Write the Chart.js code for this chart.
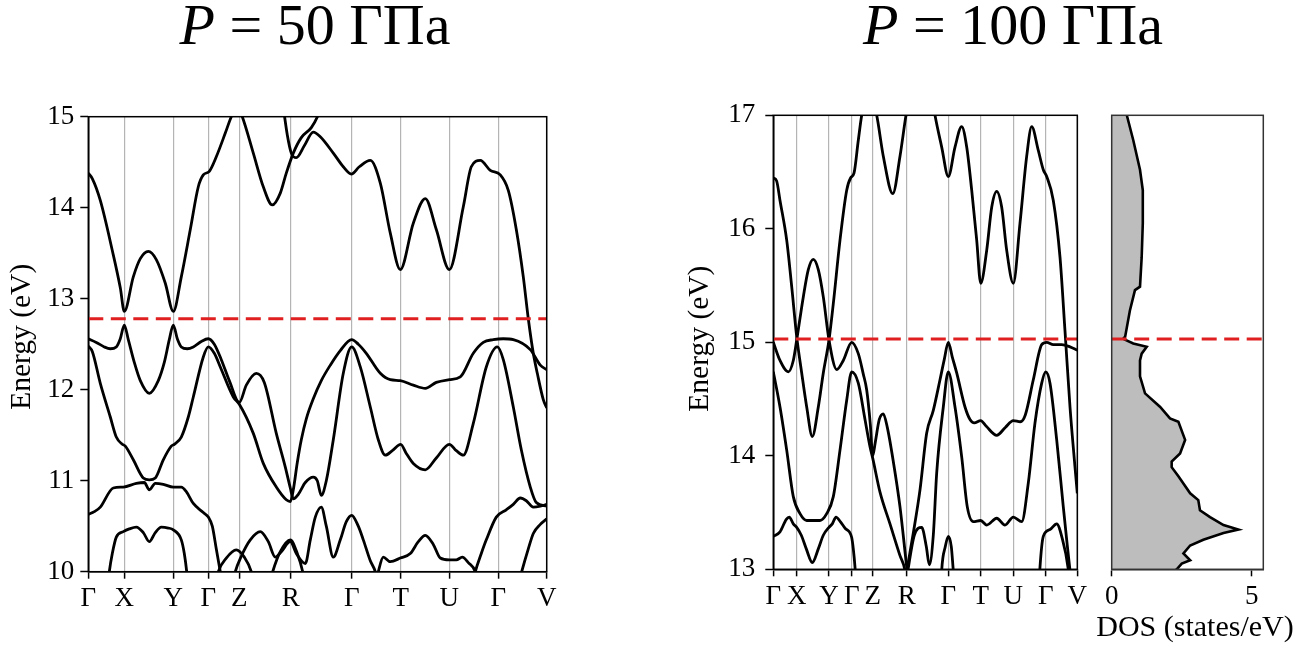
<!DOCTYPE html>
<html>
<head>
<meta charset="utf-8">
<script src="https://cdn.jsdelivr.net/npm/chart.js@4.4.1/dist/chart.umd.min.js"></script>
<style>
  body { margin: 0; width: 1310px; height: 648px; background: #fff; position: relative; overflow: hidden; font-family: 'Liberation Serif', serif; }
  .ttl { position: absolute; top: -4px; font-size: 58px; line-height: 58px; white-space: nowrap; transform: translateX(-50%); color: #000; }
  .xlab { position: absolute; left: 1195px; top: 611px; font-size: 30px; line-height: 30px; white-space: nowrap; transform: translateX(-50%); color: #000; }
  canvas { position: absolute; }
</style>
</head>
<body>
<div class="ttl" style="left:315px"><i>P</i> = 50 ГПа</div>
<div class="ttl" style="left:1013px"><i>P</i> = 100 ГПа</div>
<canvas id="bands50" width="570" height="540" style="left:0;top:100px"></canvas>
<canvas id="bands100" width="410" height="540" style="left:680px;top:100px"></canvas>
<canvas id="dos100" width="240" height="548" style="left:1070px;top:100px"></canvas>
<div class="xlab">DOS (states/eV)</div>
<script>
// high-symmetry path (k in path-length units along the x axis)
const kLabels = ['Γ', 'X', 'Y', 'Γ', 'Z', 'R', 'Γ', 'T', 'U', 'Γ', 'V'];
const kPath50 = [0, 36, 85, 120, 151, 202.4, 263.4, 312.4, 361, 410, 458.4];
const kPath100 = [0, 23.4, 55.7, 78.4, 99.4, 133.4, 175, 207.4, 240, 272.4, 304];

// Fermi levels (eV)
const ef50 = 12.78;
const ef100 = 15.03;

// P = 50 GPa bands, [k, E]
const bandA50 = [[0,14.38],[4,14.32],[12,14.08],[24,13.53],[32,13.12],[36,12.86],[45,13.24],[52,13.44],[60,13.52],[68,13.43],[77,13.17],[85,12.86],[93,13.24],[102,13.76],[110,14.23],[115,14.36],[121,14.40],[128,14.56],[137,14.82],[143,15.0],[149,15.12],[154,15.0],[165,14.60],[175,14.23],[184,14.03],[192,14.16],[198,14.38],[205,14.60],[213,14.77],[223,14.88],[230,15.02],[236,15.2]];
const bandC50 = [[195,15.1],[199,14.8],[203,14.6],[208,14.55],[216,14.68],[225,14.83],[232,14.78],[245,14.60],[255,14.45],[263,14.37],[271,14.45],[282,14.52],[292,14.27],[302,13.72],[312,13.32],[325,13.83],[337,14.10],[348,13.76],[361,13.32],[375,14.01],[383,14.45],[392,14.52],[402,14.41],[412,14.36],[420,14.19],[428,13.76],[435,13.24],[440,12.78],[445,12.40],[449,12.18],[455,11.89],[458.4,11.80]];
const bandV1_50 = [[0,12.56],[8,12.52],[16,12.47],[22,12.45],[28,12.47],[32,12.56],[36,12.71],[40,12.55],[46,12.30],[52,12.10],[61,11.96],[70,12.10],[76,12.30],[81,12.55],[85,12.71],[89,12.56],[93,12.47],[99,12.45],[105,12.47],[113,12.53],[120,12.56],[126,12.50],[133,12.33],[141,12.10],[151,11.86],[158,12.05],[168,12.18],[176,12.08],[188,11.52],[197,11.15],[202,10.92],[205,10.80],[210,10.85],[217,10.98],[225,11.04],[229,11.0],[233,10.84],[238,11.0],[245,11.45],[255,12.18],[263.4,12.47],[272,12.25],[282,11.81],[290,11.45],[297,11.28],[304,11.33],[312.4,11.40],[318,11.30],[325,11.19],[337,11.12],[348,11.25],[361,11.40],[368,11.33],[375,11.28],[385,11.63],[398,12.25],[409,12.47],[415,12.33],[425,11.81],[433,11.34],[442,10.93],[448,10.76],[458.4,10.72]];
const bandV2_50 = [[0,12.48],[4,12.42],[12,12.07],[22,11.70],[28,11.48],[34,11.40],[37,11.38],[45,11.23],[55,11.03],[61,11.01],[67,11.03],[75,11.23],[83,11.38],[86,11.40],[93,11.48],[100,11.70],[105,11.92],[115,12.36],[120,12.47],[126,12.40],[132,12.25],[145,11.92],[151,11.84],[165,11.52],[175,11.19],[188,10.93],[198,10.79],[202,10.77],[205,10.9],[209,11.2],[213,11.45],[218,11.68],[225,11.90],[233,12.10],[242,12.27],[252,12.43],[263.4,12.55],[270,12.50],[278,12.40],[292,12.18],[302,12.11],[312,12.10],[325,12.05],[337,12.015],[348,12.08],[361,12.11],[372,12.14],[385,12.40],[395,12.52],[405,12.55],[415,12.56],[425,12.55],[442,12.44],[452,12.27],[458.4,12.22]];
const bandV3_50 = [[0,10.63],[6,10.66],[12,10.71],[25,10.92],[35,10.93],[48,10.97],[56,10.98],[61,10.90],[67,10.97],[75,10.96],[85,10.93],[93,10.93],[98,10.88],[105,10.75],[115,10.65],[120,10.60],[124,10.50],[128,10.25],[132,10.0],[136,9.75]];
const bandV4_50 = [[19,9.8],[21,10.0],[24,10.2],[28,10.38],[35,10.44],[41,10.47],[48,10.49],[55,10.43],[61,10.33],[67,10.43],[73,10.49],[80,10.48],[85,10.46],[93,10.35],[96,10.2],[98.4,10.0],[100,9.8]];
const humpZ50 = [[128,9.9],[130,10.0],[138,10.15],[148,10.24],[156,10.16],[163,10.0],[165,9.9]];
const bandL1_50 = [[145,9.9],[147,10.0],[153,10.17],[162,10.35],[172,10.44],[180,10.33],[187,10.16],[193,10.22],[202,10.33],[208,10.2],[217,10.09],[222,10.35],[227,10.6],[233,10.71],[238,10.5],[245,10.16],[252,10.35],[258,10.55],[263.4,10.62],[270,10.5],[275,10.35],[282,10.12],[287,10.0],[289,9.9]];
const humpR50 = [[182,9.9],[184.4,10.0],[192,10.22],[202,10.35],[209,10.2],[214.4,10.0],[216,9.9]];
const bandTU50 = [[288,9.9],[290,10.0],[295,10.16],[302,10.11],[312,10.15],[322,10.2],[330,10.33],[337,10.40],[345,10.3],[352,10.15],[361,10.13],[368,10.13],[374,10.16],[380,10.1],[387,10.0],[389,9.9]];
const bandL3_50 = [[385,9.9],[387,10.0],[393,10.2],[398,10.35],[408,10.60],[418,10.68],[425,10.74],[432,10.81],[438,10.78],[445,10.71],[452,10.72],[458.4,10.74]];
const bandL4_50 = [[431,9.9],[433.4,10.0],[440,10.25],[445,10.42],[452,10.52],[458.4,10.58]];

// P = 100 GPa bands, [k, E]
const bandA100 = [[0,16.45],[3.4,16.42],[6.7,16.25],[13.4,15.90],[18.4,15.49],[23.4,15.05],[28.4,14.73],[33.4,14.43],[39,14.17],[45,14.43],[50,14.73],[55.7,15.02],[60,15.34],[66.7,15.90],[73.4,16.34],[77.4,16.45],[80.7,16.49],[85,16.78],[88.4,17.0],[95,17.25],[103.4,17.0],[110,16.64],[119.5,16.31],[126.7,16.64],[132.7,17.0],[137,17.2]];
const bandB100 = [[0,15.0],[6.7,14.84],[15,14.74],[20,14.84],[23.4,15.02],[30,15.40],[35,15.64],[40,15.73],[45,15.64],[50,15.40],[55.7,15.02],[63.4,14.76],[70,14.84],[78.4,15.0],[85,14.90],[90,14.72],[93.4,14.58],[97,14.28],[99.4,14.0],[102,14.12],[106,14.32],[110,14.37],[114,14.25],[120,13.95],[126.7,13.55],[133.4,13.02],[135,12.9]];
const bandC100 = [[0,14.74],[6.7,14.43],[13.4,14.05],[20,13.64],[26.7,13.49],[33.4,13.43],[40,13.43],[46.7,13.43],[53.4,13.49],[60,13.64],[66.7,14.05],[73.4,14.49],[78.4,14.74],[85,14.64],[91.7,14.32],[96.7,14.08],[99.4,13.98],[106.7,13.68],[116.7,13.40],[126.7,13.12],[131.7,12.99],[133,12.9]];
const bandD100 = [[158,17.2],[161.7,17.0],[168.4,16.72],[175,16.46],[181.7,16.72],[188.4,16.90],[193.4,16.72],[198.4,16.34],[203.4,15.90],[207.4,15.52],[213.4,15.81],[218.4,16.19],[223.4,16.33],[228.4,16.19],[233.4,15.81],[240,15.52],[246.7,16.05],[253.4,16.64],[258.4,16.90],[265,16.69],[270,16.52],[273.4,16.46],[280,16.25],[286.7,15.75],[291.7,15.10],[296.7,14.43],[301.7,13.90],[304,13.67]];
const bandE100 = [[132,12.9],[133.4,12.98],[140,13.32],[146.7,13.70],[153.4,14.20],[160,14.40],[166.7,14.67],[171,14.85],[175,15.0],[179,14.87],[183.4,14.73],[191.7,14.43],[196.7,14.32],[201,14.29],[207.4,14.31],[213,14.26],[223.4,14.18],[232,14.25],[240,14.31],[247,14.30],[252,14.36],[260,14.67],[268.4,14.98],[273.4,15.0],[280,14.98],[288.4,14.98],[296.7,14.96],[304,14.93]];
const bandF100 = [[133,12.9],[134.4,12.98],[141,13.30],[148.4,13.37],[153,13.2],[156,13.04],[160,13.30],[163.4,13.85],[170,14.43],[175,14.74],[181.7,14.43],[188.4,13.99],[194,13.55],[200,13.42],[207.4,13.43],[213.4,13.39],[223.4,13.45],[231.7,13.39],[240,13.46],[248.4,13.42],[255,13.76],[261.7,14.29],[268.4,14.64],[272.4,14.74],[276.7,14.64],[283.4,14.14],[290,13.55],[293.4,13.26],[296.7,12.99],[298,12.9]];
const bandG100 = [[0,13.29],[6.7,13.33],[13,13.44],[16,13.46],[20,13.40],[23.4,13.37],[28,13.30],[33,13.18],[39,13.06],[45,13.18],[50,13.30],[55.7,13.37],[59,13.40],[62.7,13.46],[67,13.42],[72,13.36],[76,13.33],[78.4,13.28],[80,13.18],[81.7,13.02],[82.5,12.9]];
const humpG2_100 = [[168,12.9],[168.4,12.99],[172,13.2],[175,13.29],[178,13.2],[180,12.99],[181,12.9]];
const humpG3_100 = [[266,12.9],[266.7,13.02],[270,13.29],[276.7,13.35],[283.4,13.40],[288.4,13.29],[295,13.0],[296,12.9]];

// DOS at 100 GPa
const dosE = [17.0,16.78,16.52,16.34,16.05,15.75,15.49,15.46,15.28,15.05,15.03,14.99,14.96,14.90,14.84,14.70,14.55,14.43,14.33,14.30,14.14,14.02,13.95,13.90,13.82,13.67,13.61,13.52,13.46,13.39,13.35,13.32,13.26,13.21,13.14,13.08,13.05,13.0,12.98];
const dosVal = [0.54,0.77,1.01,1.11,1.11,1.07,1.01,0.83,0.65,0.48,0.41,0.77,1.25,1.07,1.01,1.01,1.19,1.73,2.08,2.38,2.62,2.44,2.14,2.14,2.38,2.80,3.09,3.15,3.51,3.99,4.52,3.99,3.27,2.80,2.56,2.80,2.50,2.32,2.2];
const dosMax = 5.41;
const dosTicks = [0, 5];

const fermiColor = '#e02020';
const tickFont = { family: 'Liberation Serif', size: 27 };
const energyFont = { family: 'Liberation Serif', size: 29.5 };

// draws the closed box around the plot area
const framePlugin = {
  id: 'frame',
  afterDatasetsDraw(chart, args, opts) {
    const { ctx, chartArea: a } = chart;
    ctx.save();
    ctx.strokeStyle = opts.color || '#000';
    ctx.lineWidth = 1.5;
    ctx.strokeRect(a.left, a.top, a.right - a.left, a.bottom - a.top);
    ctx.restore();
  }
};

function makeBands(id, bands, kPath, eMin, eMax, ef, box) {
  const kMax = kPath[kPath.length - 1];
  const datasets = [{
    data: [{ x: 0, y: ef }, { x: kMax, y: ef }],
    borderColor: fermiColor, borderWidth: 3, borderDash: [15, 7.5]
  }].concat(bands.map(b => ({
    data: b.map(([x, y]) => ({ x, y })),
    borderColor: '#000', borderWidth: 2.8, cubicInterpolationMode: 'monotone'
  })));

  new Chart(document.getElementById(id), {
    type: 'line',
    data: { datasets },
    plugins: [framePlugin],
    options: {
      responsive: false, animation: false, events: [],
      layout: { padding: box.pad },
      elements: { point: { radius: 0 } },
      plugins: { legend: { display: false }, tooltip: { enabled: false }, frame: { color: '#000' } },
      scales: {
        x: {
          type: 'linear', min: 0, max: kMax,
          afterBuildTicks: s => { s.ticks = kPath.map(v => ({ value: v })); },
          afterFit: s => { s.height = box.xHeight; s.paddingLeft = 0; s.paddingRight = 0; },
          ticks: { autoSkip: false, maxRotation: 0, padding: 4, color: '#000', font: tickFont,
                   callback: (v, i) => kLabels[i] },
          grid: { color: '#b4b4b4', lineWidth: 1.2, tickColor: '#000', tickWidth: 1.5, tickLength: 7 },
          border: { color: '#000', width: 1.5 }
        },
        y: {
          type: 'linear', min: eMin, max: eMax,
          afterFit: s => { s.width = box.yWidth; s.paddingTop = 0; s.paddingBottom = 0; },
          ticks: { stepSize: 1, color: '#000', font: tickFont, padding: box.yPad },
          grid: { drawOnChartArea: false, color: '#000', tickColor: '#000', tickWidth: 1.5, tickLength: 8 },
          border: { color: '#000', width: 1.5 },
          title: { display: true, text: box.yTitle, color: '#000', font: energyFont,
                   padding: { top: box.titlePad, bottom: 0 } }
        }
      }
    }
  });
}

makeBands('bands50',
  [bandA50, bandC50, bandV1_50, bandV2_50, bandV3_50, bandV4_50, humpZ50, bandL1_50, humpR50, bandTU50, bandL3_50, bandL4_50],
  kPath50, 10, 15, ef50,
  { pad: { top: 16.7, right: 23.3, left: 0, bottom: 0 }, xHeight: 68.3, yWidth: 88.3, yPad: 6, titlePad: 5,
    yTitle: '\u00a0\u00a0Energy (eV)' });

makeBands('bands100',
  [bandA100, bandB100, bandC100, bandD100, bandE100, bandF100, bandG100, humpG2_100, humpG3_100],
  kPath100, 13, 17, ef100,
  { pad: { top: 15.3, right: 12.7, left: 0, bottom: 0 }, xHeight: 70.7, yWidth: 93.3, yPad: 10, titlePad: 2.5,
    yTitle: '\u00a0Energy (eV)' });

new Chart(document.getElementById('dos100'), {
  type: 'line',
  data: {
    datasets: [
      { data: [{ x: 0, y: ef100 }, { x: dosMax, y: ef100 }], borderColor: fermiColor, borderWidth: 3, borderDash: [15, 7.5], fill: false },
      { data: dosVal.map((v, i) => ({ x: v, y: dosE[i] })), borderColor: '#000', borderWidth: 2.6,
        fill: 'origin', backgroundColor: '#bdbdbd' }
    ]
  },
  plugins: [framePlugin],
  options: {
    indexAxis: 'y',
    responsive: false, animation: false, events: [],
    layout: { padding: { left: 41.7, top: 15.3, right: 46.7, bottom: 0 } },
    elements: { point: { radius: 0 } },
    plugins: { legend: { display: false }, tooltip: { enabled: false }, frame: { color: '#333' } },
    scales: {
      x: {
        type: 'linear', min: 0, max: dosMax,
        afterBuildTicks: s => { s.ticks = dosTicks.map(v => ({ value: v })); },
        afterFit: s => { s.height = 78.7; s.paddingLeft = 0; s.paddingRight = 0; },
        ticks: { autoSkip: false, maxRotation: 0, padding: 4, color: '#000', font: tickFont },
        grid: { drawOnChartArea: false, color: '#000', tickColor: '#000', tickWidth: 1.5, tickLength: 7 },
        border: { color: '#333', width: 1.5 }
      },
      y: { type: 'linear', min: 13, max: 17, display: false }
    }
  }
});
</script>
</body>
</html>
